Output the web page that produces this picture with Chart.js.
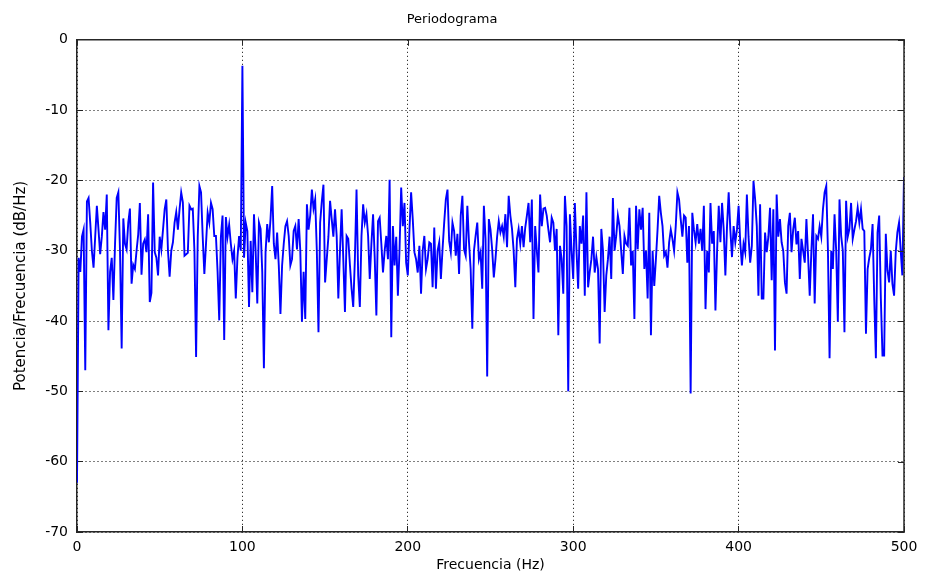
<!DOCTYPE html>
<html>
<head>
<meta charset="utf-8">
<script src="https://cdn.jsdelivr.net/npm/chart.js@4"></script>
<style>
  html, body { margin: 0; padding: 0; background: #ffffff; }
  #wrap { width: 926px; height: 574px; }
</style>
</head>
<body>
<div id="wrap"><canvas id="c" width="926" height="574"></canvas></div>
<script>
// ---- data ----
const chartTitle = 'Periodograma';
const xTitle = 'Frecuencia (Hz)';
const yTitle = 'Potencia/Frecuencia (dB/Hz)';
const xTickValues = [0, 100, 200, 300, 400, 500];
const yTickValues = [0, -10, -20, -30, -40, -50, -60, -70];
const freqStartHz = 0;
const freqStepHz = 1;
// power spectral density, dB/Hz, one value per Hz from 0 to 500 Hz
const psdDb = [
  -63, -31, -33, -28, -27, -47, -23, -22.5, -26, -30,
  -32.4, -28, -23.6, -27, -30.5, -28, -24.5, -27, -22, -41.3,
  -33, -31, -37, -29, -22.5, -21.7, -30, -43.9, -25.4, -29,
  -29.8, -26, -24, -34.7, -32, -32.6, -30, -27.7, -23.2, -33.4,
  -29, -28.4, -30.2, -24.8, -37.3, -36, -20.3, -30.2, -31, -33.5,
  -28, -29.8, -27, -24.1, -22.7, -30, -33.7, -30, -28.8, -26,
  -24.5, -27, -24.1, -21.7, -23.1, -30.7, -30.5, -30.3, -23.6, -24.1,
  -24, -30, -45.1, -28, -20.8, -21.7, -28, -33.3, -29, -24.6,
  -26, -23.2, -24.1, -27.9, -27.9, -33, -39.9, -28, -25, -42.7,
  -25.2, -28, -26.3, -29, -31.2, -30, -36.8, -31, -27.9, -30,
  -3.7, -31, -26, -27.2, -38, -28.6, -35.9, -24.8, -30, -37.5,
  -26, -26.9, -33, -46.7, -30.2, -26.2, -28.8, -25.5, -20.8, -29,
  -31.2, -27.4, -32.1, -39, -32.1, -29, -26.5, -25.8, -27.9, -32.1,
  -31.2, -27.2, -26.5, -29.8, -25.5, -30, -40.1, -33, -39.7, -23.4,
  -27, -25, -21.3, -24, -22.7, -30, -41.6, -26, -23, -20.6,
  -34.5, -31.2, -28, -22.9, -25.5, -28, -24.1, -27.9, -36.8, -30,
  -24.1, -31.2, -38.7, -27.9, -28.3, -32, -35.4, -38, -31.2, -21.3,
  -33.5, -38, -27.9, -23.4, -26, -24.8, -27.9, -34, -29, -24.8,
  -31, -39.2, -25.8, -25.3, -29, -33.1, -30, -27.9, -31.2, -19.9,
  -42.3, -26.5, -32.1, -28, -36.4, -29.8, -21, -26.5, -23.2, -31.7,
  -33.5, -27, -21.7, -25.5, -30.2, -31.2, -33.1, -29.3, -36.1, -30,
  -27.9, -32.6, -31.2, -28.8, -29, -35.2, -26.7, -35.4, -30, -28.8,
  -34, -29.8, -26, -22.7, -21.3, -28.6, -30.2, -26, -27.2, -30.7,
  -27.6, -33.3, -25, -22.2, -29.8, -30.7, -23.6, -28.8, -32.6, -41.1,
  -30, -27.9, -26, -31.2, -30.2, -35.4, -23.6, -28.3, -47.9, -25.5,
  -27, -29.8, -33.8, -31.2, -28, -25.8, -27.4, -26.5, -28, -24.8,
  -29.5, -22.2, -25, -26.9, -30, -35.2, -28.3, -26.9, -29, -26.5,
  -29.5, -26.7, -25, -23.2, -28.8, -22.7, -39.7, -26.5, -30, -33.1,
  -22, -26.5, -24, -23.9, -25, -27, -28.8, -25.3, -26, -30,
  -26.9, -42, -29.3, -31.2, -36.1, -22.2, -26.5, -50, -24.8, -30,
  -34, -23.2, -30, -35.4, -26.5, -29, -25, -36.4, -21.7, -35.2,
  -33, -31.2, -28, -33.1, -30.9, -32.6, -43.2, -26.9, -30, -38.7,
  -33.5, -31.2, -28, -34, -22.5, -30, -27.9, -25, -26.5, -30,
  -33.3, -27.9, -29, -29.3, -23.9, -32.1, -30, -39.7, -23.6, -29.8,
  -24.1, -27, -23.9, -32.6, -30, -36.8, -24.6, -42, -30, -35,
  -31.2, -27, -22.2, -24.6, -26.5, -30.7, -30.2, -32.4, -28.8, -27,
  -28.3, -30, -26.5, -21.7, -22.7, -25.5, -28, -25, -25.3, -31.7,
  -26.5, -50.3, -24.6, -27, -28.8, -26.2, -29, -26.9, -30, -23.6,
  -38.3, -30, -33.1, -23.2, -29, -27.2, -38.5, -30, -23.6, -28.8,
  -23.2, -27, -33.5, -26.5, -21.7, -27, -30.9, -26.5, -28.8, -27,
  -23.6, -28.8, -32.1, -29, -30.2, -22, -28, -31.7, -29.3, -20.1,
  -22.7, -26.5, -36.4, -23.4, -36.8, -36.8, -27.4, -30.2, -28, -23.9,
  -34.2, -24.1, -44.2, -22, -28, -25.5, -28.8, -30, -34.5, -36.1,
  -26.5, -24.6, -30.2, -27, -25.3, -29.1, -27.2, -34, -28.3, -30,
  -31.7, -25.5, -30.7, -36.4, -30, -24.8, -37.5, -27.9, -28.3, -26.5,
  -28, -24.1, -21.7, -20.8, -29.8, -45.3, -30, -32.6, -24.8, -30,
  -40.1, -22.7, -27.9, -30, -41.6, -22.9, -28, -26.9, -23.2, -28.3,
  -27, -25.8, -23.9, -26, -24.1, -26.9, -27.2, -41.8, -32.6, -31,
  -29.8, -26.2, -36.8, -45.3, -27.4, -25, -36.8, -44.9, -44.9, -27.6,
  -32.8, -34.5, -30, -34.7, -36.4, -30.2, -27.4, -26, -30, -33.5, -19.5
];

// ---- build points ----
const points = psdDb.map((v, i) => ({ x: freqStartHz + i * freqStepHz, y: v }));

const FONT = '"DejaVu Sans", Verdana, sans-serif';

// top / right frame edges and inward ticks on those edges
const edgePlugin = {
  id: 'edgeFrame',
  afterDraw(chart) {
    const ctx = chart.ctx;
    const a = chart.chartArea;
    const xs = chart.scales.x;
    const ys = chart.scales.y;
    ctx.save();
    ctx.strokeStyle = 'rgb(38,38,38)';
    ctx.lineWidth = 1;
    const tl = 6;
    for (const v of xTickValues) {
      const px = Math.round(xs.getPixelForValue(v)) + 0.5;
      ctx.beginPath(); ctx.moveTo(px, a.top); ctx.lineTo(px, a.top + tl); ctx.stroke();
    }
    for (const v of yTickValues) {
      const py = Math.round(ys.getPixelForValue(v)) + 0.5;
      ctx.beginPath(); ctx.moveTo(a.right, py); ctx.lineTo(a.right - tl, py); ctx.stroke();
    }
    ctx.lineWidth = 1.5;
    ctx.beginPath();
    ctx.moveTo(a.left, a.top); ctx.lineTo(a.right, a.top); ctx.lineTo(a.right, a.bottom);
    ctx.stroke();
    ctx.restore();
  }
};

const gridStyle = {
  display: true,
  color: 'rgb(0,0,0)',
  lineWidth: 1,
  drawOnChartArea: true,
  drawTicks: true,
  tickLength: -6,
  tickColor: 'rgb(34,34,34)',
  tickWidth: 1,
  tickBorderDash: []
};
const frameBorder = { display: true, color: 'rgb(38,38,38)', width: 1.5, dash: [1, 3] };

new Chart(document.getElementById('c'), {
  type: 'line',
  data: {
    datasets: [{
      data: points,
      borderColor: '#0000ff',
      borderWidth: 1.9,
      pointRadius: 0,
      tension: 0,
      fill: false
    }]
  },
  options: {
    responsive: false,
    animation: false,
    events: [],
    layout: { padding: { left: 0, right: 22, top: 0, bottom: 0 } },
    plugins: {
      legend: { display: false },
      tooltip: { enabled: false },
      title: {
        display: true,
        text: chartTitle,
        color: '#000',
        font: { family: FONT, size: 13, weight: 'normal' },
        padding: { top: 11.5, bottom: 12.7 }
      }
    },
    scales: {
      x: {
        type: 'linear',
        position: 'bottom',
        z: 1,
        min: 0,
        max: 500,
        afterBuildTicks(scale) { scale.ticks = xTickValues.map(v => ({ value: v })); },
        afterFit(scale) { scale.height = 42; scale.paddingLeft = 0; scale.paddingRight = 0; },
        grid: gridStyle,
        border: frameBorder,
        ticks: { color: '#000', font: { family: FONT, size: 14 }, padding: 13, maxRotation: 0, autoSkip: false },
        title: { display: true, text: xTitle, color: '#000', font: { family: FONT, size: 14 }, padding: { top: 0, bottom: 0 } }
      },
      y: {
        type: 'linear',
        position: 'left',
        z: 1,
        min: -70,
        max: 0,
        afterBuildTicks(scale) { scale.ticks = yTickValues.map(v => ({ value: v })); },
        afterFit(scale) { scale.width = 77; },
        grid: gridStyle,
        border: frameBorder,
        ticks: { color: '#000', font: { family: FONT, size: 14 }, padding: 15, autoSkip: false },
        title: { display: true, text: yTitle, color: '#000', font: { family: FONT, size: 15 }, padding: { top: 12, bottom: 0 } }
      }
    }
  },
  plugins: [edgePlugin]
});
</script>
</body>
</html>
